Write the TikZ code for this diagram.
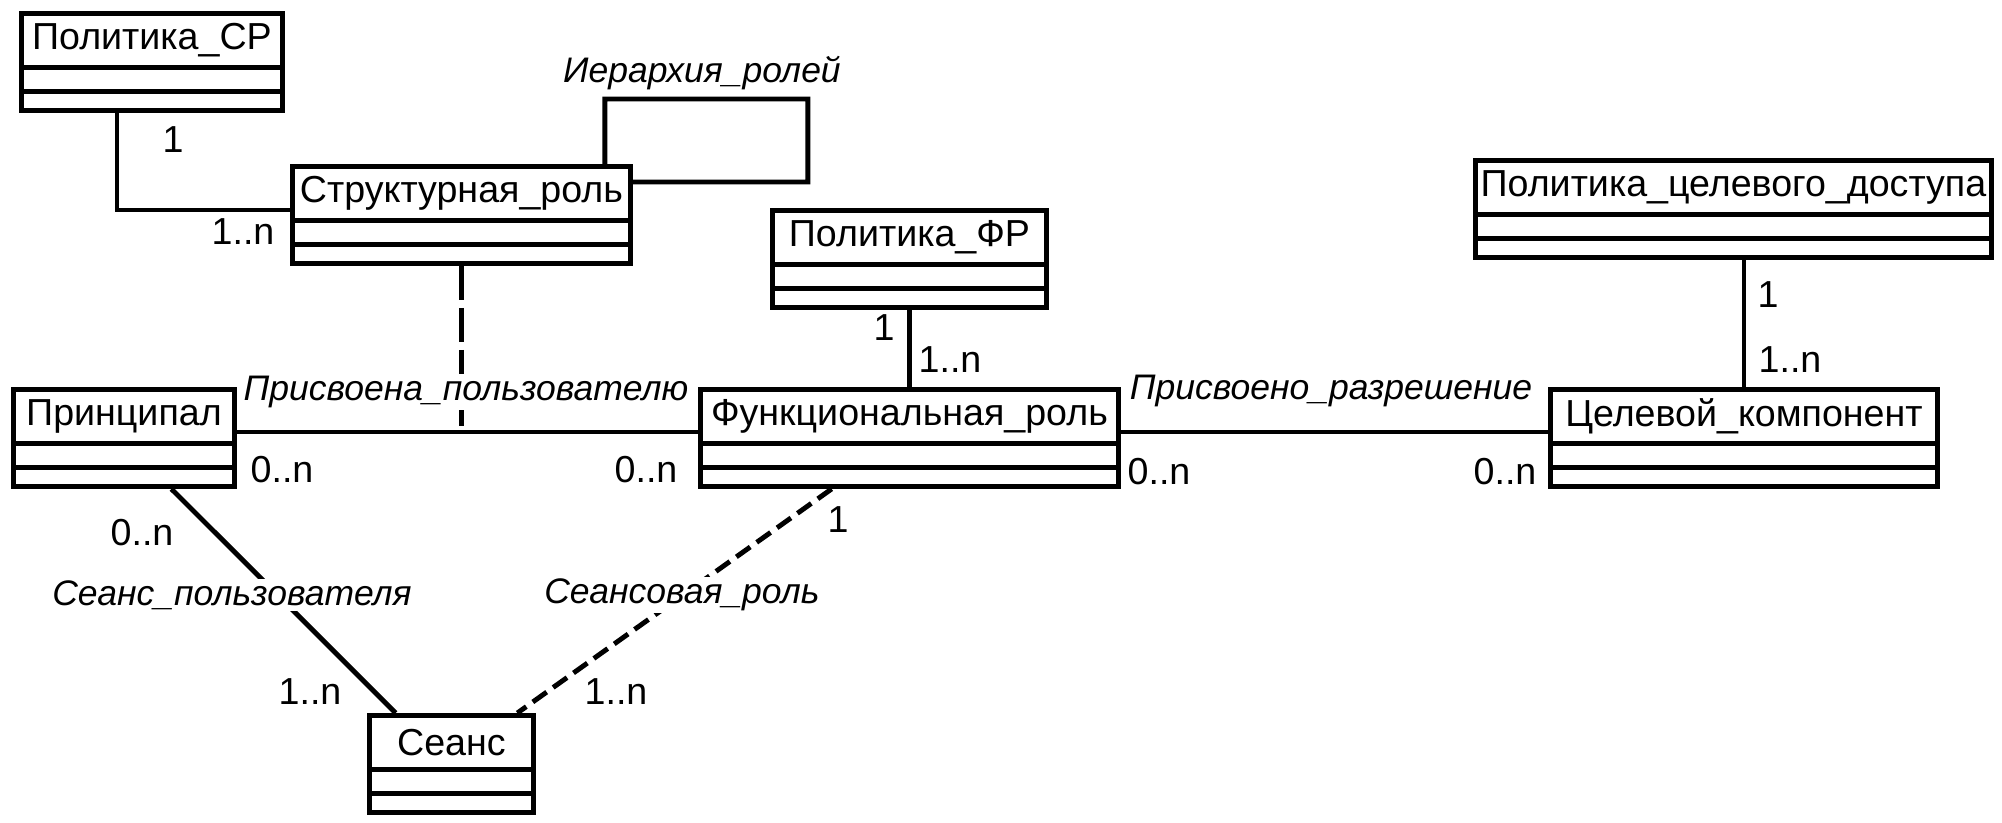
\documentclass[tikz,border=0pt]{standalone}
\usepackage{fontspec}
\setmainfont{Liberation Sans}
\usetikzlibrary{calc}

\tikzset{
  umlline/.style={line width=1.4pt},
  dashline/.style={umlline, dash pattern=on 3.4mm off 0.8mm},
  sessdash/.style={umlline, dash pattern=on 1.7mm off 0.8mm},
  clsbox/.style={umlline, draw, rectangle, inner sep=0pt, minimum height=9.7mm},
  clsname/.style={umlline, draw, rectangle, inner sep=0pt, minimum height=5.4mm},
  mult/.style={inner sep=1pt},
  assoc/.style={font=\fontsize{10.1}{12}\selectfont\itshape, inner sep=0.5pt},
  gap/.style={fill=white}
}

% class box: id, top-left corner, width, name
\newcommand{\umlclass}[4]{%
  \node[clsbox, minimum width=#3, anchor=north west] (#1) at (#2) {};
  \node[clsname, minimum width=#3, anchor=north west] (#1-n) at (#1.north west) {#4};
  \draw[umlline] ($(#1-n.south west)+(0,-0.215)$) -- ($(#1-n.south east)+(0,-0.215)$);
}

\begin{document}
\fontsize{10.7}{12}\selectfont
\begin{tikzpicture}
    \useasboundingbox (0,0) rectangle (20.02,-8.22);
    % Classes
    \umlclass{polsr}{0.19,-0.11}{2.61cm}{Политика\_СР}
    \umlclass{strrole}{2.90,-1.64}{3.38cm}{Структурная\_роль}
    \umlclass{polfr}{7.70,-2.08}{2.74cm}{Политика\_ФР}
    \umlclass{poltarget}{14.73,-1.58}{5.16cm}{Политика\_целевого\_доступа}
    \umlclass{princ}{0.11,-3.87}{2.21cm}{Принципал}
    \umlclass{funcrole}{6.98,-3.87}{4.18cm}{Функциональная\_роль}
    \umlclass{target}{15.48,-3.87}{3.87cm}{Целевой\_компонент}
    \umlclass{session}{3.67,-7.13}{1.64cm}{Сеанс}
    % Associations
    \draw[umlline] ([xshift=-3.5mm]polsr.south) |- ([yshift=-4.6mm]strrole.north west);
    \draw[umlline] ([xshift=-2.8mm]strrole.north east) -- ++(0,0.65) -- ++(2.03,0)
        -- ++(0,-0.83) -- ([yshift=-1.8mm]strrole.north east);
    \coordinate (upa) at ([yshift=-4.5mm]princ.north east);
    \draw[umlline] (upa) -- ([yshift=-4.5mm]funcrole.north west);
    \draw[dashline] (strrole.south) -- (strrole.south |- upa);
    \draw[umlline] (polfr.south) -- (funcrole.north);
    \draw[umlline] ([yshift=-4.5mm]funcrole.north east) -- ([yshift=-4.5mm]target.north west);
    \draw[umlline] (target.north) -- (target.north |- poltarget.south);
    \draw[umlline] ($(princ.south west)!0.71!(princ.south east)$) -- ($(session.north west)!0.17!(session.north east)$);
    \draw[sessdash] ($(funcrole.south west)!0.316!(funcrole.south east)$) -- ($(session.north west)!0.89!(session.north east)$);
    % Association names
    \node[assoc] (hier) at (7.02,-0.73) {Иерархия\_ролей};
    \node[assoc, gap] (assignu) at (4.66,-3.92) {Присвоена\_пользователю};
    \node[assoc] (assignp) at (13.31,-3.91) {Присвоено\_разрешение};
    \node[assoc, gap] (usess) at (2.32,-5.95) {Сеанс\_пользователя};
    \node[assoc, gap] (srole) at (6.82,-5.95) {Сеансовая\_роль};
    % Multiplicities
    \node[mult] (m1) at (1.73,-1.40) {1};
    \node[mult] (m2) at (2.43,-2.32) {1..n};
    \node[mult] (m3) at (2.82,-4.70) {0..n};
    \node[mult] (m4) at (6.46,-4.70) {0..n};
    \node[mult] (m5) at (8.84,-3.28) {1};
    \node[mult] (m6) at (9.50,-3.60) {1..n};
    \node[mult] (m7) at (11.59,-4.72) {0..n};
    \node[mult] (m8) at (15.05,-4.72) {0..n};
    \node[mult] (m9) at (17.68,-2.95) {1};
    \node[mult] (m10) at (17.90,-3.60) {1..n};
    \node[mult] (m11) at (1.42,-5.33) {0..n};
    \node[mult] (m12) at (3.10,-6.92) {1..n};
    \node[mult] (m13) at (8.38,-5.20) {1};
    \node[mult] (m14) at (6.16,-6.92) {1..n};
\end{tikzpicture}
\end{document}
